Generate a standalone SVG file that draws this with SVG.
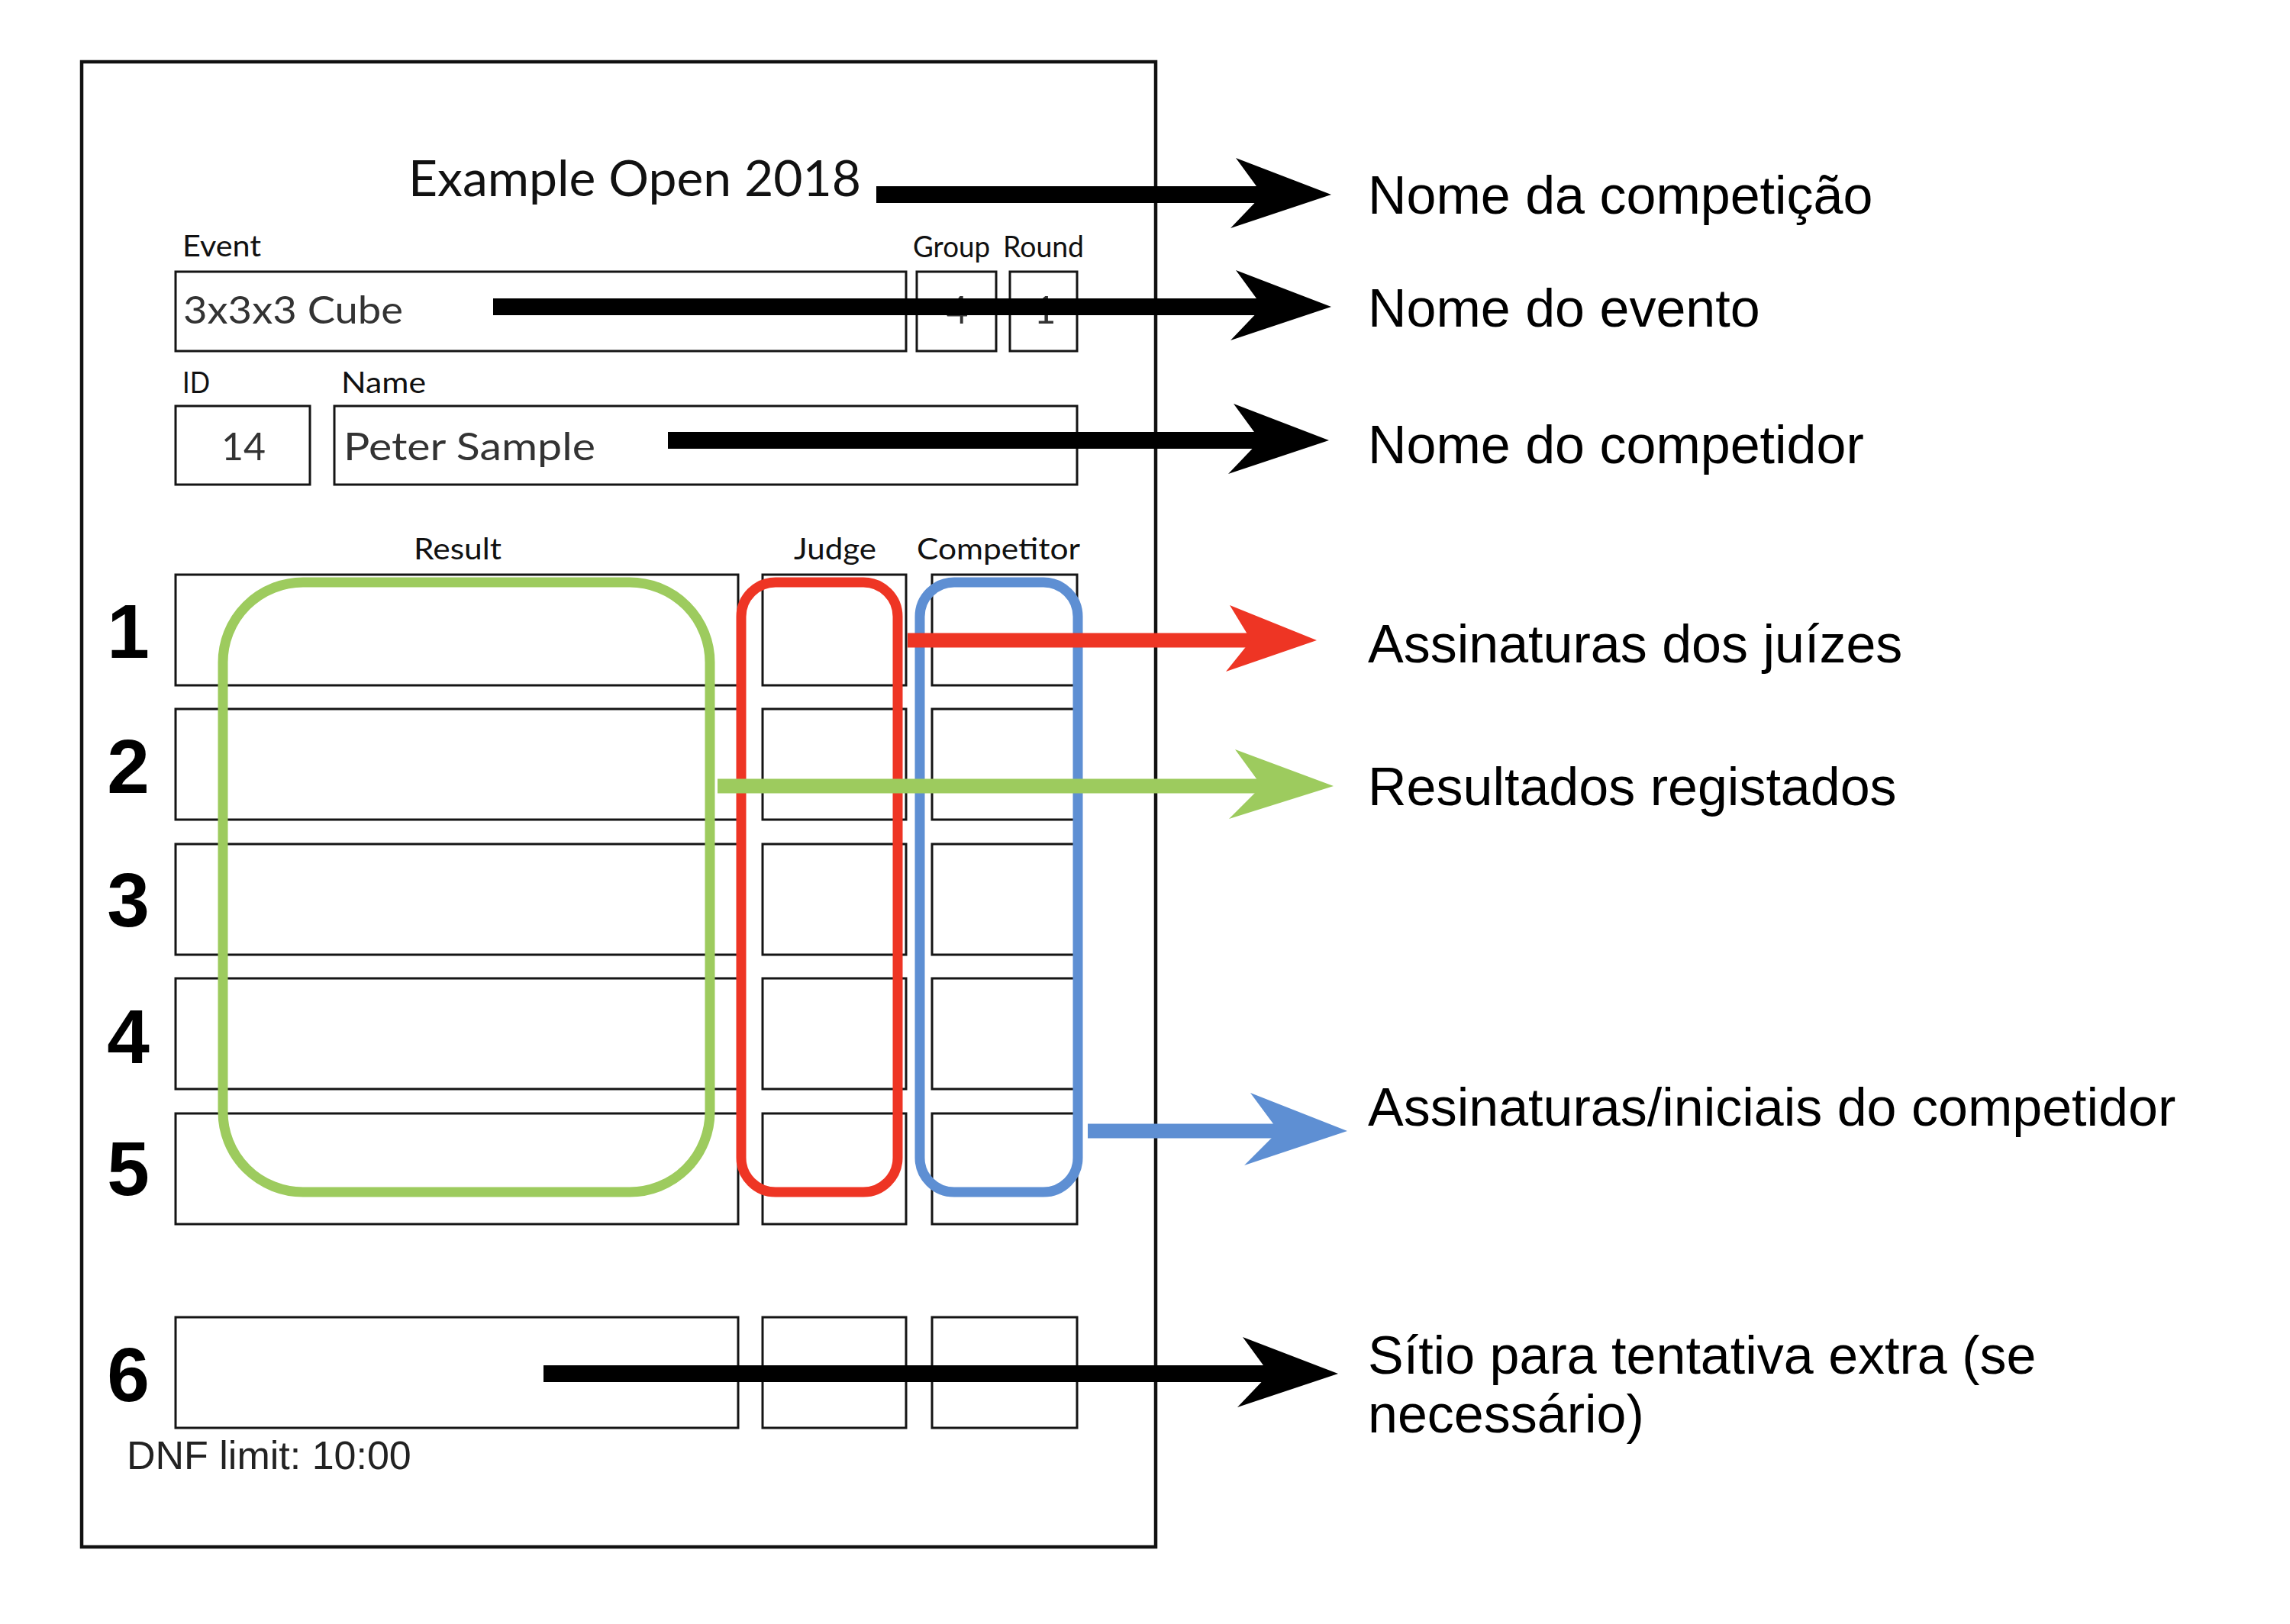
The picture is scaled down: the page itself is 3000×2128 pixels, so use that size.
<svg xmlns="http://www.w3.org/2000/svg" width="3000" height="2128" viewBox="0 0 3000 2128">
<style>
.frame{fill:none;stroke:#111;stroke-width:4.5}
.box{fill:none;stroke:#151515;stroke-width:3}
.lbl{font-family:Lato,"Open Sans","Liberation Sans",sans-serif;font-size:38px;fill:#111}
.val{font-family:Lato,"Open Sans","Liberation Sans",sans-serif;font-size:50px;fill:#333}
.num{font-family:"Liberation Sans",Arial,sans-serif;font-size:100px;font-weight:bold;fill:#000;text-anchor:middle}
.note{font-family:"Liberation Sans",Arial,sans-serif;font-size:70px;fill:#000}
.hl{fill:none;stroke-width:13}
.blk{stroke:#000;stroke-width:22;fill:none}
</style>
<defs>
<marker id="hBlack" markerUnits="userSpaceOnUse" viewBox="-140 -55 145 110" markerWidth="145" markerHeight="110" refX="-80" refY="0" orient="auto"><path d="M0,0 L-125,-48 L-90,0 L-132,44 Z" fill="#000"/></marker>
<marker id="hRed" markerUnits="userSpaceOnUse" viewBox="-140 -55 145 110" markerWidth="145" markerHeight="110" refX="-80" refY="0" orient="auto"><path d="M0,0 L-114,-46 L-86,0 L-119,41 Z" fill="#EE3524"/></marker>
<marker id="hGreen" markerUnits="userSpaceOnUse" viewBox="-140 -55 145 110" markerWidth="145" markerHeight="110" refX="-80" refY="0" orient="auto"><path d="M0,0 L-129,-48 L-94,0 L-137,43 Z" fill="#9DCB5E"/></marker>
<marker id="hBlue" markerUnits="userSpaceOnUse" viewBox="-140 -55 145 110" markerWidth="145" markerHeight="110" refX="-80" refY="0" orient="auto"><path d="M0,0 L-127,-50 L-90,0 L-135,45 Z" fill="#5E8FD3"/></marker>
</defs>
<rect width="3000" height="2128" fill="#fff"/>
<g id="sheet">
<rect class="frame" x="107" y="81" width="1407" height="1946"/>
</g>
<g id="title">
<text x="535" y="257" font-family="Lato,'Open Sans','Liberation Sans',sans-serif" font-size="66" fill="#111" textLength="593" lengthAdjust="spacingAndGlyphs">Example Open 2018</text>
</g>
<g id="event-row">
<text class="lbl" x="239" y="336" textLength="103" lengthAdjust="spacingAndGlyphs">Event</text>
<text class="lbl" x="1196" y="337" font-size="34" textLength="101" lengthAdjust="spacingAndGlyphs">Group</text>
<text class="lbl" x="1314" y="337" font-size="34" textLength="106" lengthAdjust="spacingAndGlyphs">Round</text>
<rect class="box" x="230" y="356" width="957" height="104"/>
<rect class="box" x="1201" y="356" width="104" height="104"/>
<rect class="box" x="1323" y="356" width="88" height="104"/>
<text class="val" x="240" y="424" textLength="288" lengthAdjust="spacingAndGlyphs">3x3x3 Cube</text>
<text class="val" x="1254" y="424" fill="#555" text-anchor="middle">4</text>
<text class="val" x="1369" y="424" fill="#555" text-anchor="middle">1</text>
</g>
<g id="competitor-row">
<text class="lbl" x="239" y="515" textLength="36" lengthAdjust="spacingAndGlyphs">ID</text>
<text class="lbl" x="447" y="515" textLength="111" lengthAdjust="spacingAndGlyphs">Name</text>
<rect class="box" x="230" y="532" width="176" height="103"/>
<rect class="box" x="438" y="532" width="973" height="103"/>
<text class="val" x="290" y="603" fill="#222" textLength="58" lengthAdjust="spacingAndGlyphs">14</text>
<text class="val" x="450" y="603" textLength="330" lengthAdjust="spacingAndGlyphs">Peter Sample</text>
</g>
<g id="attempts">
<text class="lbl" x="542" y="733" textLength="115" lengthAdjust="spacingAndGlyphs">Result</text>
<text class="lbl" x="1040" y="733" textLength="108" lengthAdjust="spacingAndGlyphs">Judge</text>
<text class="lbl" x="1201" y="733" textLength="214" lengthAdjust="spacingAndGlyphs">Competitor</text>
<g id="attempt-1">
<rect class="box" x="230" y="753" width="737" height="145"/><rect class="box" x="999" y="753" width="188" height="145"/><rect class="box" x="1221" y="753" width="190" height="145"/>
<text class="num" x="168" y="862">1</text>
</g>
<g id="attempt-2">
<rect class="box" x="230" y="929" width="737" height="145"/><rect class="box" x="999" y="929" width="188" height="145"/><rect class="box" x="1221" y="929" width="190" height="145"/>
<text class="num" x="168" y="1039">2</text>
</g>
<g id="attempt-3">
<rect class="box" x="230" y="1106" width="737" height="145"/><rect class="box" x="999" y="1106" width="188" height="145"/><rect class="box" x="1221" y="1106" width="190" height="145"/>
<text class="num" x="168" y="1214">3</text>
</g>
<g id="attempt-4">
<rect class="box" x="230" y="1282" width="737" height="145"/><rect class="box" x="999" y="1282" width="188" height="145"/><rect class="box" x="1221" y="1282" width="190" height="145"/>
<text class="num" x="168" y="1393">4</text>
</g>
<g id="attempt-5">
<rect class="box" x="230" y="1459" width="737" height="145"/><rect class="box" x="999" y="1459" width="188" height="145"/><rect class="box" x="1221" y="1459" width="190" height="145"/>
<text class="num" x="168" y="1566">5</text>
</g>
<g id="attempt-6">
<rect class="box" x="230" y="1726" width="737" height="145"/><rect class="box" x="999" y="1726" width="188" height="145"/><rect class="box" x="1221" y="1726" width="190" height="145"/>
<text class="num" x="168" y="1836">6</text>
</g>
<text x="166" y="1925" font-family="'Liberation Sans',Arial,sans-serif" font-size="52" fill="#222">DNF limit: 10:00</text>
</g>
<g id="highlights">
<rect id="hl-results" class="hl" x="292" y="763" width="638" height="799" rx="105" stroke="#9DCB5E"/>
<rect id="hl-judge" class="hl" x="971" y="763" width="205" height="799" rx="45" stroke="#EE3524"/>
<rect id="hl-competitor" class="hl" x="1205" y="763" width="207" height="799" rx="45" stroke="#5E8FD3"/>
</g>
<g id="connectors">
<line class="blk" x1="1148" y1="255" x2="1664" y2="255" marker-end="url(#hBlack)"/>
<line class="blk" x1="646" y1="402" x2="1664" y2="402" marker-end="url(#hBlack)"/>
<line class="blk" x1="875" y1="577" x2="1661" y2="577" marker-end="url(#hBlack)"/>
<line x1="1189" y1="839" x2="1645" y2="839" stroke="#EE3524" stroke-width="19" marker-end="url(#hRed)"/>
<line x1="940" y1="1030" x2="1667" y2="1030" stroke="#9DCB5E" stroke-width="19" marker-end="url(#hGreen)"/>
<line x1="1425" y1="1482" x2="1685" y2="1482" stroke="#5E8FD3" stroke-width="19" marker-end="url(#hBlue)"/>
<line class="blk" x1="712" y1="1800" x2="1673" y2="1800" marker-end="url(#hBlack)"/>
</g>
<g id="annotations">
<text class="note" x="1792" y="280">Nome da competição</text>
<text class="note" x="1792" y="428">Nome do evento</text>
<text class="note" x="1792" y="607">Nome do competidor</text>
<text class="note" x="1792" y="868">Assinaturas dos juízes</text>
<text class="note" x="1792" y="1055">Resultados registados</text>
<text class="note" x="1792" y="1475">Assinaturas/iniciais do competidor</text>
<text class="note" x="1792" y="1800">Sítio para tentativa extra (se</text>
<text class="note" x="1792" y="1877">necessário)</text>
</g>
</svg>
